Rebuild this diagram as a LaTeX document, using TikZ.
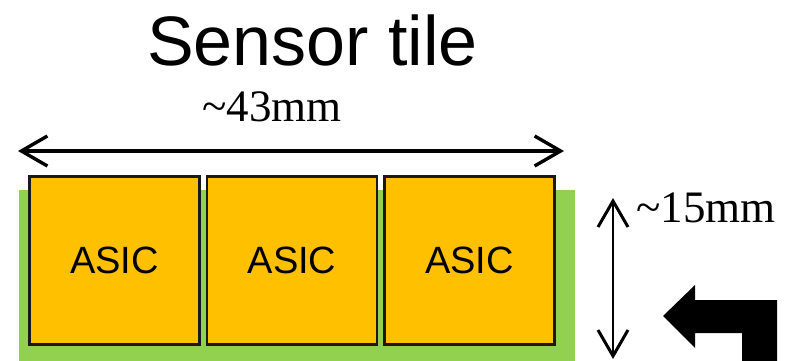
\documentclass[tikz,border=0pt]{standalone}
\usepackage{fontspec}
\setmainfont{Liberation Serif}
\newfontfamily\headfont{Liberation Sans}
\usetikzlibrary{arrows.meta}
\definecolor{asicorange}{HTML}{FFC000}
\definecolor{boardgreen}{HTML}{92D050}
\begin{document}
\begin{tikzpicture}[x=1pt,y=-1pt,
  asicbox/.style={draw=black!90,line width=2.6pt,fill=asicorange,
    minimum width=170pt,minimum height=168pt,inner sep=0pt,
    font=\headfont\fontsize{38}{40}\selectfont},
  dimarrow/.style={line width=3.4pt,
    {Straight Barb[length=26pt,width=30pt,line width=3.4pt]}-{Straight Barb[length=26pt,width=30pt,line width=3.4pt]}},
  vdimarrow/.style={line width=2.6pt,
    {Straight Barb[length=26pt,width=30pt,line width=3pt]}-{Straight Barb[length=26pt,width=30pt,line width=3pt]}},
  dimlabel/.style={anchor=base west,inner sep=0pt,font=\fontsize{45}{47}\selectfont}]
\useasboundingbox (0,0) rectangle (789,361);

% board under the chips
\fill[boardgreen] (19,190) rectangle (575,361);

% readout chips
\node[asicbox] (a1) at (114.5,260.5) {ASIC};
\node[asicbox] (a2) at (292,260.5) {ASIC};
\node[asicbox] (a3) at (469.5,260.5) {ASIC};

% title
\node[anchor=base west,inner sep=0pt,font=\headfont\fontsize{70}{72}\selectfont] (title) at (147,65) {Sensor tile};

% width dimension
\coordinate (wl) at (18,151);
\coordinate (wr) at (564,151);
\draw[dimarrow] (wl) -- (wr);
\node[dimlabel] (wlab) at (202,121) {\textasciitilde43mm};

% height dimension
\coordinate (ht) at (613,198);
\coordinate (hb) at (613,359);
\draw[vdimarrow] (ht) -- (hb);
\node[dimlabel] (hlab) at (636,222) {\textasciitilde15mm};

% bent arrow
\fill[black] (663,316) -- (695,285) -- (695,300) -- (777,300) -- (777,361)
  -- (742,361) -- (742,333) -- (695,333) -- (695,348) -- cycle;
\end{tikzpicture}
\end{document}
